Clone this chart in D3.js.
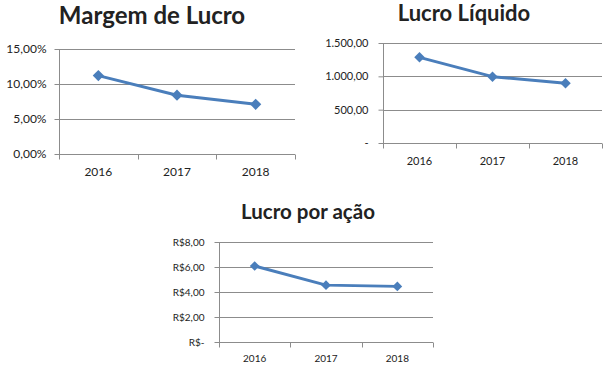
<!DOCTYPE html>
<html>
<head>
<meta charset="utf-8">
<script src="https://cdn.jsdelivr.net/npm/d3@7"></script>
<style>
  html, body { margin: 0; padding: 0; background: #fff; }
  svg { display: block; }
  text { font-family: Lato, "Open Sans", sans-serif; fill: #222; }
</style>
</head>
<body>
<svg id="chart" width="606" height="367"></svg>
<script>
// ---- data ----
const years = ["2016", "2017", "2018"];

const margemTitle = "Margem de Lucro";
const margemValues = [0.112, 0.084, 0.071];
const margemTicks = [0, 0.05, 0.10, 0.15];

const lucroTitle = "Lucro Líquido";
const lucroValues = [1285, 995, 895];
const lucroTicks = [0, 500, 1000, 1500];

const lpaTitle = "Lucro por ação";
const lpaValues = [6.08, 4.55, 4.45];
const lpaTicks = [0, 2, 4, 6, 8];

// ---- formatting (pt-BR) ----
const ptBR = d3.formatLocale({ decimal: ",", thousands: ".", grouping: [3], currency: ["R$", ""] });
const fmtPct = v => ptBR.format(".2f")(v * 100) + "%";
const fmtNum = v => v === 0 ? "-" : ptBR.format(",.2f")(v);
const fmtBRL = v => v === 0 ? "R$-" : "R$" + ptBR.format(",.2f")(v);

const svg = d3.select("#chart");
const lineColor = "#4a7ebb";
const gridColor = "#8c8c8c";

function drawChart(cfg) {
  const g = svg.append("g");
  const x = d3.scaleBand().domain(years).range([cfg.x0, cfg.x1]);
  const y = d3.scaleLinear().domain([cfg.ticks[0], cfg.ticks[cfg.ticks.length - 1]]).range([cfg.yb, cfg.yt]);

  // gridlines
  g.selectAll("line.grid").data(cfg.ticks.slice(1)).join("line")
    .attr("x1", cfg.x0).attr("x2", cfg.x1)
    .attr("y1", d => Math.round(y(d)) + 0.5).attr("y2", d => Math.round(y(d)) + 0.5)
    .attr("stroke", gridColor).attr("stroke-width", 1);

  // y axis
  const ya = g.append("g").attr("transform", `translate(${cfg.x0 + 0.5},0)`)
    .call(d3.axisLeft(y).tickValues(cfg.ticks).tickFormat(cfg.fmt).tickSize(5).tickPadding(cfg.pad).tickSizeOuter(0));
  ya.select(".domain").attr("stroke", gridColor).attr("d", `M0,${cfg.yt}V${cfg.yb + 5}`);
  ya.selectAll(".tick line").attr("stroke", gridColor);
  ya.selectAll(".tick text").attr("font-size", cfg.fs).attr("fill", "#1a1a1a").attr("font-family", "Lato, sans-serif");

  // x axis
  const xa = g.append("g").attr("transform", `translate(0,${Math.round(cfg.yb) + 0.5})`)
    .call(d3.axisBottom(x).tickSize(0).tickPadding(cfg.xpad).tickSizeOuter(0));
  xa.select(".domain").attr("stroke", gridColor).attr("d", `M${cfg.x0},0H${cfg.x1}`);
  xa.selectAll(".tick text").attr("font-size", cfg.xfs).attr("fill", "#1a1a1a").attr("font-family", "Lato, sans-serif");
  const edges = years.map(d => x(d)).concat([cfg.x1]);
  xa.selectAll("line.edge").data(edges).join("line")
    .attr("x1", d => Math.round(d) + 0.5).attr("x2", d => Math.round(d) + 0.5)
    .attr("y1", 0).attr("y2", 5).attr("stroke", gridColor);

  // line
  const pts = years.map((d, i) => [x(d) + x.bandwidth() / 2, y(cfg.values[i])]);
  g.append("path").attr("d", d3.line()(pts))
    .attr("fill", "none").attr("stroke", lineColor).attr("stroke-width", 3).attr("stroke-linejoin", "round");
  g.selectAll("path.mk").data(pts).join("path")
    .attr("transform", d => `translate(${d[0]},${d[1]})`)
    .attr("d", d3.symbol(d3.symbolDiamond2, cfg.mk)())
    .attr("fill", lineColor);

  // title
  g.append("text").attr("x", cfg.tx).attr("y", cfg.ty).attr("text-anchor", "middle")
    .attr("font-size", cfg.tfs).attr("font-weight", "bold").attr("fill", "#111").text(cfg.title);
}

drawChart({ title: margemTitle, values: margemValues, ticks: margemTicks, fmt: fmtPct,
  x0: 59, x1: 295, yt: 49, yb: 154, pad: 8, fs: 12, xfs: 12, xpad: 13, mk: 80,
  tx: 152, ty: 24, tfs: 24 });

drawChart({ title: lucroTitle, values: lucroValues, ticks: lucroTicks, fmt: fmtNum,
  x0: 383, x1: 602, yt: 43, yb: 143, pad: 10, fs: 11, xfs: 11, xpad: 14, mk: 70,
  tx: 464, ty: 21, tfs: 22 });

drawChart({ title: lpaTitle, values: lpaValues, ticks: lpaTicks, fmt: fmtBRL,
  x0: 219, x1: 433, yt: 242, yb: 342, pad: 10, fs: 10, xfs: 10, xpad: 12, mk: 60,
  tx: 308, ty: 219, tfs: 20.5 });
</script>
</body>
</html>
